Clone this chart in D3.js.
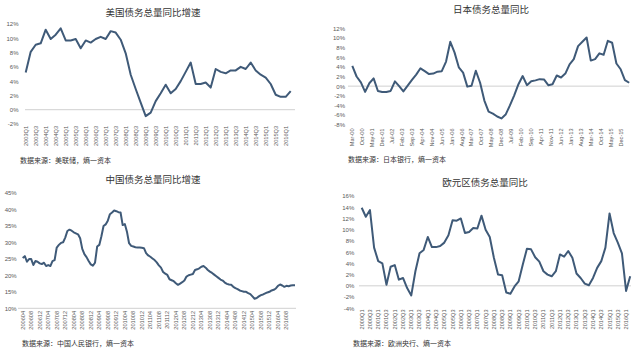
<!DOCTYPE html>
<html>
<head>
<meta charset="utf-8">
<script src="https://cdn.jsdelivr.net/npm/d3@7"></script>
<style>
  body { margin: 0; background: #fff; }
  svg { display: block; font-family: "Liberation Sans", Arial, "Noto Sans CJK SC", sans-serif; }
</style>
</head>
<body>
<svg id="chart" width="640" height="352"></svg>
<script>
// ---- données ----
// US, trimestriel 2003Q1 - 2016Q2
const usValues = [5.2, 8.1, 9.1, 9.3, 11.2, 9.9, 10.5, 11.4, 9.7, 9.7, 9.9, 8.6, 9.7, 9.4, 9.9, 10.2,
  9.9, 11.0, 10.8, 9.8, 7.9, 4.9, 2.9, 1.0, -0.9, -0.4, 1.2, 2.3, 3.5, 2.3, 2.9, 4.0,
  5.3, 6.6, 3.6, 3.6, 3.8, 3.1, 5.7, 5.3, 5.1, 5.5, 5.5, 6.0, 5.7, 6.6, 5.5, 4.9,
  4.5, 3.6, 2.1, 1.8, 1.8, 2.6];
const usTicks = [-2, 0, 2, 4, 6, 8, 10, 12];

// Japon, trimestriel Mar-00 - Jun-16
const jpValues = [4.2, 2.0, 0.8, -1.2, 0.6, 1.6, -1.0, -1.2, -1.2, -1.0, 1.0, 0.0, -1.1, 0.1, 1.3, 2.4,
  3.7, 3.1, 2.5, 2.6, 3.0, 3.1, 5.1, 9.2, 7.0, 3.9, 2.8, -0.1, 0.1, 3.2, 0.7, -3.0,
  -5.3, -5.7, -6.3, -6.7, -5.9, -4.0, -1.9, 0.4, 2.1, 0.2, 1.0, 1.2, 1.45, 1.4, 0.2, 0.4,
  2.2, 1.8, 2.6, 4.5, 5.6, 8.3, 9.2, 10.1, 5.3, 5.6, 6.8, 6.5, 9.4, 9.0, 4.7, 3.5,
  1.25, 0.7];
const jpLabels = ["Mar-00", "Oct-00", "May-01", "Dec-01", "Jul-02", "Feb-03", "Sep-03", "Apr-04",
  "Nov-04", "Jun-05", "Jan-06", "Aug-06", "Mar-07", "Oct-07", "May-08", "Dec-08", "Jul-09",
  "Feb-10", "Sep-10", "Apr-11", "Nov-11", "Jun-12", "Jan-13", "Aug-13", "Mar-14", "Oct-14",
  "May-15", "Dec-15"];
const jpTicks = [-8, -6, -4, -2, 0, 2, 4, 6, 8, 10, 12];

// Chine, mensuel 2006-04 - 2016-12
const cnValues = [25.2, 25.8, 24.1, 24.9, 24.9, 23.1, 24.3, 24.1, 23.6, 23.4, 23.8, 22.8, 23.1, 22.8, 24.3, 24.6,
  28.4, 29.2, 29.8, 30.0, 31.4, 33.4, 33.8, 33.5, 33.0, 32.7, 32.4, 31.2, 28.0, 26.4, 25.5, 24.3,
  23.3, 22.9, 23.8, 28.7, 29.2, 31.8, 34.9, 35.4, 36.5, 38.5, 39.0, 39.6, 39.4, 39.1, 39.0, 35.2,
  35.5, 33.2, 29.7, 28.9, 28.7, 28.5, 28.4, 28.4, 28.3, 28.2, 26.7, 26.0, 25.6, 25.1, 24.6, 23.9,
  23.0, 22.3, 21.0, 20.5, 20.1, 18.8, 18.5, 18.2, 17.6, 17.1, 17.5, 17.9, 18.4, 19.6, 20.0, 20.2,
  20.4, 21.6, 21.8, 22.1, 22.6, 22.8, 22.3, 21.6, 21.1, 20.7, 20.2, 19.7, 19.2, 18.7, 18.4, 17.8,
  17.4, 17.2, 17.1, 16.5, 16.1, 15.8, 15.4, 15.2, 15.0, 15.0, 14.6, 14.3, 13.6, 12.9, 13.1, 13.6,
  14.0, 14.2, 14.5, 14.8, 15.0, 15.4, 15.6, 16.0, 16.8, 17.2, 16.9, 16.5, 16.8, 16.7, 16.9, 17.0,
  17.0];
const cnTicks = [10, 15, 20, 25, 30, 35, 40, 45];

// Zone euro, trimestriel 2000Q1 - 2016Q2
const euValues = [13.9, 12.3, 13.5, 6.8, 4.4, 4.0, 0.2, 3.4, 3.7, 1.1, 1.4, -0.4, -1.7, 2.6, 5.8, 6.4,
  8.7, 6.9, 6.9, 7.1, 7.7, 9.0, 11.7, 11.6, 12.0, 9.4, 9.6, 10.3, 10.2, 12.5, 10.0, 8.7,
  5.0, 2.0, 1.9, -1.2, -1.4, -0.1, 0.8, 3.8, 6.6, 6.5, 5.1, 4.3, 2.6, 2.0, 1.7, 2.6,
  5.6, 5.2, 6.2, 5.0, 2.2, 1.4, 0.4, 0.1, 1.4, 3.2, 4.4, 6.8, 12.9, 9.4, 7.7, 5.8,
  -0.9, 1.7];
const euTicks = [-4, -2, 0, 2, 4, 6, 8, 10, 12, 14, 16];

// catégories
function quarters(y0, n) {
  return d3.range(n).map(i => `${y0 + Math.floor(i / 4)}Q${i % 4 + 1}`);
}
function months(y0, m0, n) {
  return d3.range(n).map(i => {
    const t = (m0 - 1) + i;
    return `${y0 + Math.floor(t / 12)}${String(t % 12 + 1).padStart(2, "0")}`;
  });
}

const lineColor = "#3f5a78";
const textColor = "#595959";
const svg = d3.select("#chart");

// Dessine un panneau
function panel(o) {
  const g = svg.append("g");
  const y = d3.scaleLinear().domain(o.yDomain).range(o.yRange);

  // ligne de base
  g.append("line")
    .attr("x1", o.base[0]).attr("x2", o.base[1])
    .attr("y1", y(o.baseValue)).attr("y2", y(o.baseValue))
    .attr("stroke", "#d0d0d0").attr("stroke-width", 1);

  // axe y (texte seul)
  const yAxis = g.append("g")
    .attr("transform", `translate(${o.yLabelX},0)`)
    .call(d3.axisLeft(y).tickValues(o.yTicks).tickSize(0).tickPadding(0)
      .tickFormat(d => d + "%"));
  yAxis.select(".domain").remove();
  yAxis.selectAll("text")
    .attr("font-size", "6px").attr("fill", textColor)
    .attr("font-family", "Liberation Sans, Arial, sans-serif");

  // étiquettes x
  g.append("g")
    .selectAll("text")
    .data(o.xLabels)
    .join("text")
    .attr("transform", d => `translate(${o.xPos(d)},${o.xLabelY}) rotate(-90)`)
    .attr("text-anchor", "end")
    .attr("dy", "0.35em")
    .attr("font-size", "5.6px")
    .attr("fill", textColor)
    .text(d => o.xText ? o.xText(d) : d);

  // courbe
  g.append("path")
    .datum(o.values)
    .attr("fill", "none")
    .attr("stroke", lineColor)
    .attr("stroke-width", 2)
    .attr("stroke-linejoin", "round")
    .attr("d", d3.line().x((d, i) => o.x(i)).y(d => y(d)));

  // titre
  g.append("text")
    .attr("x", o.title[1]).attr("y", o.title[2])
    .attr("text-anchor", "middle")
    .attr("font-size", "9.5px")
    .attr("fill", "#333")
    .attr("font-family", "Noto Sans CJK SC, sans-serif")
    .text(o.title[0]);

  // source
  g.append("text")
    .attr("x", o.source[1]).attr("y", o.source[2])
    .attr("font-size", "7px")
    .attr("fill", "#333")
    .attr("font-family", "Noto Sans CJK SC, sans-serif")
    .text(o.source[0]);
}

// --- US ---
const usCats = quarters(2003, usValues.length);
const xUs = d3.scalePoint().domain(usCats).range([25.7, 290.7]);
panel({
  values: usValues,
  x: i => xUs(usCats[i]),
  yDomain: [-2, 12], yRange: [124, 24], yTicks: usTicks, yLabelX: 18.5,
  base: [25, 295], baseValue: 0,
  xLabels: usCats.filter((d, i) => i % 2 === 0), xPos: d => xUs(d), xLabelY: 126,
  title: ["美国债务总量同比增速", 153, 16],
  source: ["数据来源：美联储，熵一资本", 20, 163]
});

// --- Japon ---
const parseJp = d3.timeParse("%b-%y");
const jpStart = parseJp("Mar-00");
const jpDates = jpValues.map((d, i) => d3.timeMonth.offset(jpStart, 3 * i));
const xJp = d3.scaleTime().domain([jpStart, jpDates[jpDates.length - 1]]).range([352.3, 629.2]);
panel({
  values: jpValues,
  x: i => xJp(jpDates[i]),
  yDomain: [-8, 12], yRange: [124.7, 28.3], yTicks: jpTicks, yLabelX: 345,
  base: [348, 629], baseValue: 0,
  xLabels: jpLabels, xPos: d => xJp(parseJp(d)), xLabelY: 128.5,
  title: ["日本债务总量同比", 491, 12.5],
  source: ["数据来源：日本银行，熵一资本", 348, 161.5]
});

// --- Chine ---
const cnCats = months(2006, 4, cnValues.length);
const xCn = d3.scalePoint().domain(cnCats).range([22.7, 295]);
panel({
  values: cnValues,
  x: i => xCn(cnCats[i]),
  yDomain: [10, 45], yRange: [308.3, 192.7], yTicks: cnTicks, yLabelX: 16.7,
  base: [18, 296], baseValue: 10,
  xLabels: cnCats.filter((d, i) => i % 4 === 0 && i <= 124), xPos: d => xCn(d), xLabelY: 311,
  title: ["中国债务总量同比增速", 153, 182.5],
  source: ["数据来源：中国人民银行，熵一资本", 22, 345.5]
});

// --- Zone euro ---
const euCats = quarters(2000, euValues.length);
const xEu = d3.scalePoint().domain(euCats).range([361.7, 630.2]);
panel({
  values: euValues,
  x: i => xEu(euCats[i]),
  yDomain: [-4, 16], yRange: [308.3, 196], yTicks: euTicks, yLabelX: 354.3,
  base: [359, 631], baseValue: 0,
  xLabels: euCats.filter((d, i) => i % 2 === 0), xPos: d => xEu(d), xLabelY: 309.5,
  title: ["欧元区债务总量同比", 485, 186],
  source: ["数据来源：欧洲央行、熵一资本", 353, 345.5]
});
</script>
</body>
</html>
